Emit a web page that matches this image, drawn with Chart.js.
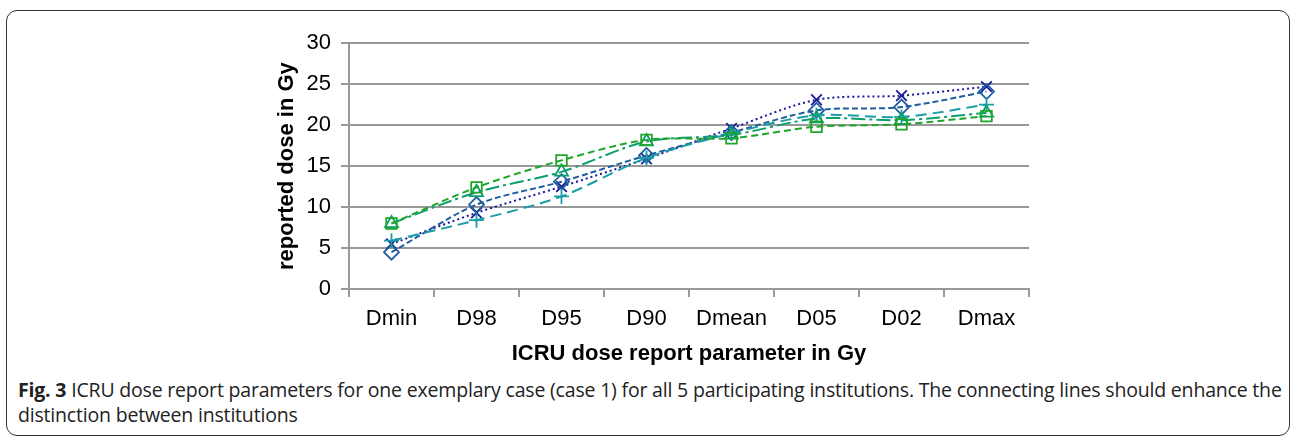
<!DOCTYPE html>
<html>
<head>
<meta charset="utf-8">
<script src="https://cdn.jsdelivr.net/npm/chart.js@4"></script>
<style>
  body { margin: 0; width: 1296px; height: 440px; background: #fff; position: relative; overflow: hidden; }
  .frame { position: absolute; left: 6px; top: 10px; width: 1282px; height: 424px; border: 1.5px solid #333; border-radius: 11px; }
  #wrap { position: absolute; left: 260px; top: 20px; width: 800px; height: 350px; }
  .caption { position: absolute; left: 18px; top: 377px; width: 1270px; white-space: nowrap; font-family: "Open Sans", sans-serif; font-size: 19.5px; line-height: 25px; color: #222; letter-spacing: -0.19px; }
  .caption b { font-weight: 700; }
</style>
</head>
<body>
<div class="frame"></div>
<div id="wrap"><canvas id="doseChart" width="800" height="350"></canvas></div>
<div class="caption"><b>Fig. 3</b> ICRU dose report parameters for one exemplary case (case 1) for all 5 participating institutions. The connecting lines should enhance the<br>distinction between institutions</div>
<script>
// dose report parameters (x categories)
const categories = ['Dmin', 'D98', 'D95', 'D90', 'Dmean', 'D05', 'D02', 'Dmax'];
const yTicks = [0, 5, 10, 15, 20, 25, 30];

// reported doses per institution
const inst1 = [5.5, 9.3, 12.5, 15.9, 19.6, 23.1, 23.6, 24.7];
const inst2 = [4.5, 10.3, 13.1, 16.3, 19.1, 21.8, 22.2, 24.1];
const inst3 = [5.9, 8.4, 11.3, 16.0, 19.0, 21.2, 21.0, 22.5];
const inst4 = [8.0, 11.8, 14.3, 18.0, 18.8, 20.8, 20.6, 21.5];
const inst5 = [8.0, 12.4, 15.7, 18.2, 18.4, 19.8, 20.1, 21.1];

const axisFont = 'Liberation Sans, Arial, sans-serif';

function series(data, color, dash, style) {
    return {
        data: data,
        borderColor: color,
        backgroundColor: 'rgba(0,0,0,0)',
        borderWidth: 2,
        borderDash: dash,
        tension: 0.3,
        pointStyle: style,
        pointRadius: 7.5,
        pointBorderColor: color,
        pointBorderWidth: 1.8,
        pointBackgroundColor: 'rgba(0,0,0,0)'
    };
}

const ctx = document.getElementById('doseChart');
new Chart(ctx, {
    type: 'line',
    data: {
        labels: categories,
        datasets: [
            series(inst5, '#1fa52a', [7, 4], 'rect'),
            series(inst4, '#0c9e6e', [14, 4, 3, 4], 'triangle'),
            series(inst3, '#1a9ea6', [11, 6], 'cross'),
            series(inst2, '#1f5d9e', [6, 3], 'rectRot'),
            series(inst1, '#1a1a9c', [2, 3], 'crossRot')
        ]
    },
    options: {
        responsive: false,
        animation: false,
        layout: { padding: { top: 19, right: 31, left: 0, bottom: 0 } },
        plugins: {
            legend: { display: false },
            tooltip: { enabled: false }
        },
        scales: {
            x: {
                offset: true,
                grid: {
                    offset: true,
                    drawOnChartArea: false,
                    drawTicks: true,
                    tickLength: 8,
                    color: '#999',
                    lineWidth: 2
                },
                border: { color: '#999', width: 2 },
                ticks: {
                    color: '#000',
                    padding: 9,
                    font: { family: axisFont, size: 22 }
                },
                title: {
                    display: true,
                    text: 'ICRU dose report parameter in Gy',
                    color: '#000',
                    font: { family: axisFont, size: 22, weight: 'bold' },
                    padding: { top: 4, bottom: 3 }
                },
                afterFit: s => { s.height = 81; }
            },
            y: {
                min: 0,
                max: 30,
                afterBuildTicks: s => { s.ticks = yTicks.map(v => ({ value: v })); },
                grid: {
                    color: '#999',
                    lineWidth: 2,
                    tickLength: 8
                },
                border: { color: '#999', width: 2 },
                ticks: {
                    color: '#000',
                    padding: 10,
                    font: { family: axisFont, size: 22 }
                },
                title: {
                    display: true,
                    text: 'reported dose in Gy',
                    color: '#000',
                    font: { family: axisFont, size: 22, weight: 'bold' },
                    padding: { top: 14, bottom: 4 }
                },
                afterFit: s => { s.width = 89; }
            }
        }
    }
});
</script>
</body>
</html>
